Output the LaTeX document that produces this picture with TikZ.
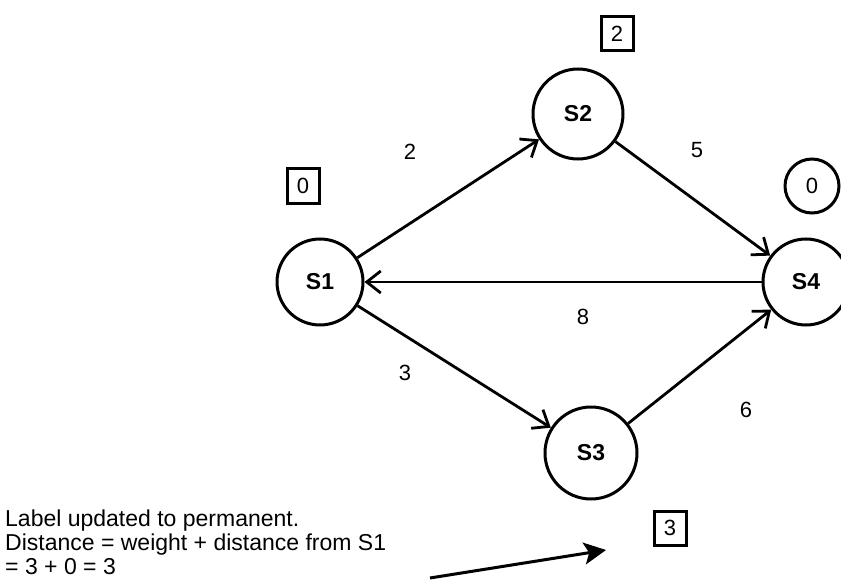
\documentclass[tikz,border=0pt]{standalone}
\usepackage{fontspec}
\setmainfont{Liberation Sans}
\usetikzlibrary{arrows.meta}
\begin{document}
\begin{tikzpicture}[x=1pt,y=-1pt,
  state/.style={circle,draw,line width=3pt,minimum size=86pt,inner sep=0pt,font=\fontsize{23}{26}\selectfont\bfseries},
  distbox/.style={draw,line width=3pt,minimum width=32pt,minimum height=34pt,inner sep=0pt,font=\fontsize{22}{24}\selectfont},
  edge/.style={line width=2.8pt,-{Straight Barb[length=14pt,width=22pt,line width=2.8pt]}},
  wlabel/.style={font=\fontsize{22}{24}\selectfont}]
\useasboundingbox (0,0) rectangle (841,583);
\fill[white] (0,0) rectangle (841,583);
\node[state] (s1) at (320,282) {S1};
\node[state,minimum size=90pt] (s2) at (578,114) {S2};
\node[state,minimum size=92pt] (s3) at (591,453) {S3};
\node[state] (s4) at (806,282) {S4};
\node[circle,draw,line width=3pt,minimum size=54pt,inner sep=0pt,font=\fontsize{22}{24}\selectfont] (z4) at (812,186) {0};
\node[distbox] (b1) at (303,186) {0};
\node[distbox] (b2) at (617,34) {2};
\node[distbox] (b3) at (670,528) {3};
\draw[edge] (s1) -- (s2);
\draw[edge] (s2) -- (s4);
\draw[edge] (s4) -- (s1);
\draw[edge] (s1) -- (s3);
\draw[edge] (s3) -- (s4);
\node[wlabel] (w12) at (410,152) {2};
\node[wlabel] (w24) at (697,150) {5};
\node[wlabel] (w41) at (583,317) {8};
\node[wlabel] (w13) at (405,373) {3};
\node[wlabel] (w34) at (746,410) {6};
\node[anchor=base west,align=left,inner sep=0pt,font=\fontsize{23}{24}\selectfont] (note) at (5,574)
  {Label updated to permanent.\\Distance = weight + distance from S1\\= 3 + 0 = 3};
\coordinate (pa) at (430,578);
\coordinate (pb) at (606,550);
\draw[line width=3pt,-{Stealth[length=22pt,width=22pt,inset=5pt]}] (pa) -- (pb);
\end{tikzpicture}
\end{document}
